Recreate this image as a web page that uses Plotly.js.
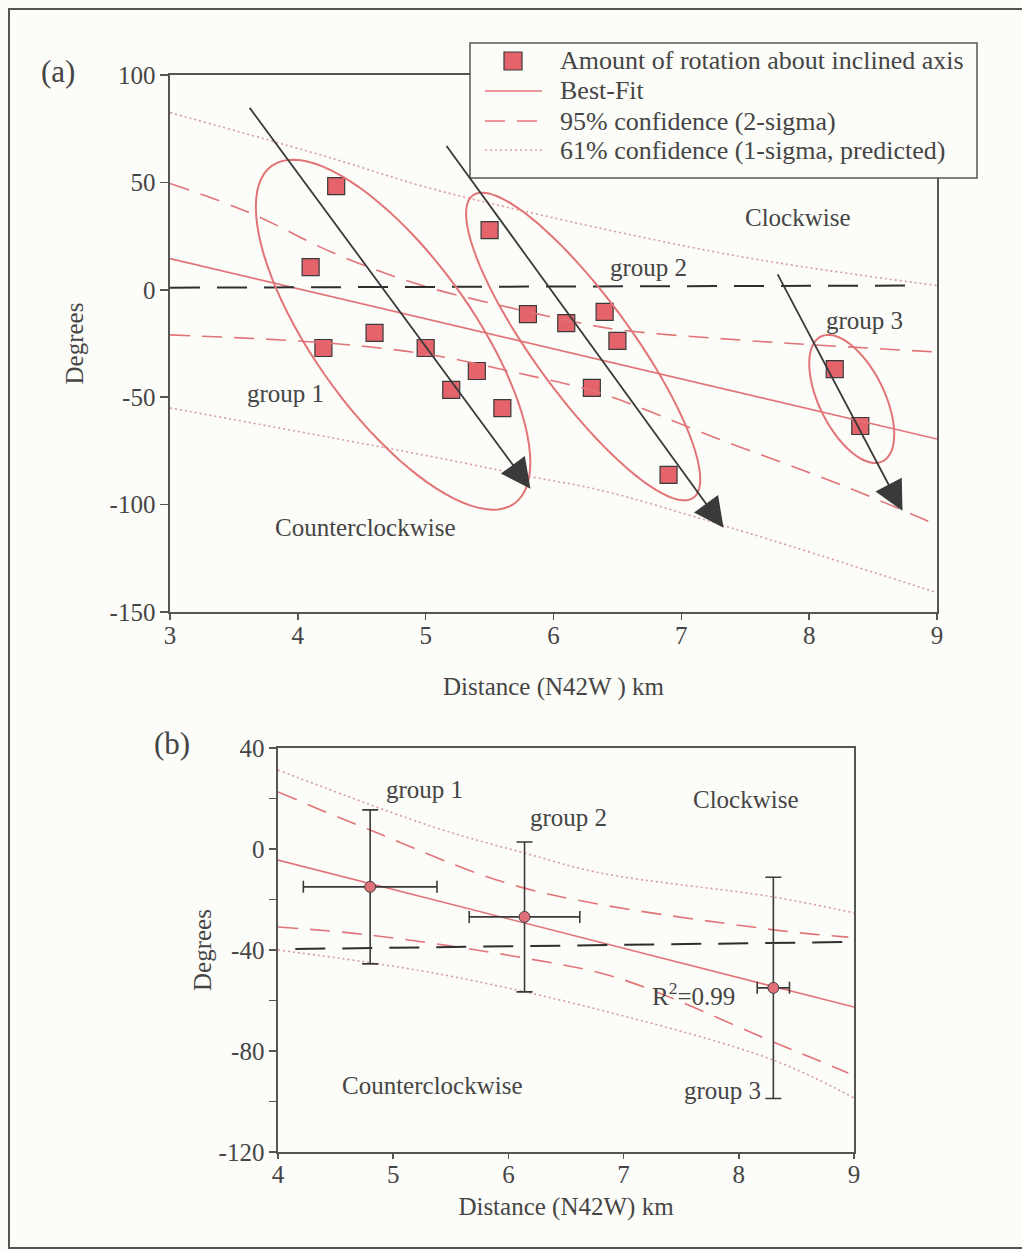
<!DOCTYPE html>
<html><head><meta charset="utf-8">
<script src="https://cdn.plot.ly/plotly-3.0.1.min.js"></script>
<style>html,body{margin:0;padding:0;background:#fcfcf9}</style>
</head><body><div id="chart" style="width:1022px;height:1250px"></div>
<script>
// ---------- Panel (a) data ----------
const aDist = [4.1, 4.2, 4.3, 4.6, 5.0, 5.2, 5.4, 5.5, 5.6, 5.8, 6.1, 6.3, 6.4, 6.5, 6.9, 8.2, 8.4];
const aRot  = [10.6, -27.1, 48.3, -20.1, -27.1, -46.6, -37.8, 27.8, -55.1, -11.3, -15.5, -45.7, -10.3, -23.8, -86.2, -36.9, -63.4];
const aFitX = [3, 9];
const aFitY = [14.5, -69.5];
const a95UpX = [3, 3.63, 4.28, 4.96, 5.74, 6.21, 6.52, 7.46, 8.03, 9];
const a95UpY = [49.5, 35.7, 17.1, 2.2, -9.4, -15.5, -18.7, -23.4, -25.6, -29];
const a95LoX = [3, 4.28, 5.06, 5.74, 6.36, 7.25, 8.3, 9];
const a95LoY = [-21, -25, -30.5, -39, -48, -68.5, -92, -109.5];
const a61UpX = [3, 4.28, 4.96, 5.74, 7.46, 9];
const a61UpY = [82.5, 61, 48.5, 37, 15.5, 2];
const a61LoX = [3, 5.06, 5.84, 6.36, 7.4, 9];
const a61LoY = [-55, -77.8, -87.2, -93.2, -111, -141];
const aZeroX = [3, 8.87];
const aZeroY = [1, 2];
const aXTicks = [3, 4, 5, 6, 7, 8, 9];
const aYTicks = [-150, -100, -50, 0, 50, 100];
const aYTickText = ['-150', '-100', '-50', '0', '50', '100'];
// group ellipses (center, semi-axis vectors in data units)
const ellCx = [4.745, 6.232, 8.333];
const ellCy = [-20.9, -26.4, -50.8];
const ellUx = [0.949, 0.863, 0.241];
const ellUy = [-78.6, -70.4, -29.05];
const ellVx = [-0.502, -0.307, -0.229];
const ellVy = [-21.4, -13.3, -6.72];
// rotation arrows (tail -> tip)
const arrTailX = [3.60, 5.14, 7.73];
const arrTailY = [86.6, 68.9, 9.8];
const arrTipX  = [5.82, 7.33, 8.73];
const arrTipY  = [-92.6, -110.8, -102.9];
// text labels panel (a)
const aLabText = ['Clockwise', 'group 2', 'group 3', 'group 1', 'Counterclockwise'];
const aLabX = [7.91, 6.74, 8.43, 3.9, 4.53];
const aLabY = [33.5, 10.2, -14.4, -48.4, -110.8];
const legendLabels = ['Amount of rotation about inclined axis', 'Best-Fit', '95% confidence (2-sigma)', '61% confidence (1-sigma, predicted)'];

// ---------- Panel (b) data ----------
const bDist = [4.80, 6.14, 8.30];
const bRot  = [-15.0, -26.9, -55.0];
const bDistErr = [0.58, 0.48, 0.14];
const bRotErr  = [30.5, 29.7, 43.8];
const bFitX = [4, 9];
const bFitY = [-4.4, -62.6];
const b95UpX = [4, 4.8, 6.13, 8.25, 8.95];
const b95UpY = [22.6, 7.5, -15.4, -31.7, -34.9];
const b95LoX = [4, 4.8, 6.14, 6.95, 8.3, 8.95];
const b95LoY = [-30.9, -34.1, -43.2, -51.1, -76.4, -88.7];
const b61UpX = [4, 5.35, 6.14, 6.8, 8.3, 9];
const b61UpY = [31.3, 8.7, -1.6, -9.5, -19, -25.3];
const b61LoX = [4, 5.35, 6.8, 8.3, 9];
const b61LoY = [-40, -49.1, -63.8, -83.6, -98.6];
const bZeroX = [4.15, 9];
const bZeroY = [-39.6, -36.8];
const bLabText = ['group 1', 'group 2', 'Clockwise', 'R<sup>2</sup>=0.99', 'Counterclockwise', 'group 3'];
const bLabX = [5.27, 6.52, 8.06, 7.61, 5.34, 7.86];
const bLabY = [23.4, 12.3, 19.8, -57.4, -93.5, -95.8];
const bXTicks = [4, 5, 6, 7, 8, 9];
const bYTicks = [-120, -100, -80, -60, -40, -20, 0, 20, 40];
const bYTickText = ['-120', '', '-80', '', '-40', '', '0', '', '40'];

// ---------- styles ----------
const FONT = '"Liberation Serif", "Times New Roman", serif';
const TXT = '#454545';
const AX = '#555555';
const RED = '#e27478';
const DOTC = '#d99aa0';
const DASH = '20px,12px';
const DOT = '2px,3px';
const BG = '#fcfcf9';
const MFILL = '#e5636b';
const W = 1022, H = 1250;
const px = v => v / W;
const py = v => 1 - v / H;

const traces = [];
// panel a
traces.push({x: aDist, y: aRot, type: 'scatter', mode: 'markers', name: legendLabels[0],
  marker: {symbol: 'square', size: 17, color: MFILL, line: {color: '#3a3a3a', width: 1.2}}, xaxis: 'x', yaxis: 'y'});
traces.push({x: aFitX, y: aFitY, type: 'scatter', mode: 'lines', name: legendLabels[1],
  line: {color: RED, width: 1.6}, xaxis: 'x', yaxis: 'y'});
traces.push({x: a95UpX, y: a95UpY, type: 'scatter', mode: 'lines', name: legendLabels[2],
  line: {color: RED, width: 1.6, dash: DASH, shape: 'spline'}, xaxis: 'x', yaxis: 'y'});
traces.push({x: a95LoX, y: a95LoY, type: 'scatter', mode: 'lines', name: '95% lower',
  line: {color: RED, width: 1.6, dash: DASH, shape: 'spline'}, xaxis: 'x', yaxis: 'y'});
traces.push({x: a61UpX, y: a61UpY, type: 'scatter', mode: 'lines', name: legendLabels[3],
  line: {color: DOTC, width: 1.6, dash: DOT, shape: 'spline'}, xaxis: 'x', yaxis: 'y'});
traces.push({x: a61LoX, y: a61LoY, type: 'scatter', mode: 'lines', name: '61% lower',
  line: {color: DOTC, width: 1.6, dash: DOT, shape: 'spline'}, xaxis: 'x', yaxis: 'y'});
traces.push({x: aZeroX, y: aZeroY, type: 'scatter', mode: 'lines', name: 'zero',
  line: {color: '#2e2e2e', width: 2, dash: '30px,17px'}, xaxis: 'x', yaxis: 'y'});
// panel b
traces.push({x: bFitX, y: bFitY, type: 'scatter', mode: 'lines', name: 'fit b',
  line: {color: RED, width: 1.6}, xaxis: 'x2', yaxis: 'y2'});
traces.push({x: b95UpX, y: b95UpY, type: 'scatter', mode: 'lines', name: '95 up b',
  line: {color: RED, width: 1.6, dash: DASH, shape: 'spline'}, xaxis: 'x2', yaxis: 'y2'});
traces.push({x: b95LoX, y: b95LoY, type: 'scatter', mode: 'lines', name: '95 lo b',
  line: {color: RED, width: 1.6, dash: DASH, shape: 'spline'}, xaxis: 'x2', yaxis: 'y2'});
traces.push({x: b61UpX, y: b61UpY, type: 'scatter', mode: 'lines', name: '61 up b',
  line: {color: DOTC, width: 1.6, dash: DOT, shape: 'spline'}, xaxis: 'x2', yaxis: 'y2'});
traces.push({x: b61LoX, y: b61LoY, type: 'scatter', mode: 'lines', name: '61 lo b',
  line: {color: DOTC, width: 1.6, dash: DOT, shape: 'spline'}, xaxis: 'x2', yaxis: 'y2'});
traces.push({x: bZeroX, y: bZeroY, type: 'scatter', mode: 'lines', name: 'zero b',
  line: {color: '#2e2e2e', width: 2, dash: '30px,17px'}, xaxis: 'x2', yaxis: 'y2'});
traces.push({x: bDist, y: bRot, type: 'scatter', mode: 'markers', name: 'groups',
  error_x: {type: 'data', array: bDistErr, color: '#3a3a3a', thickness: 1.6, width: 6},
  error_y: {type: 'data', array: bRotErr, color: '#3a3a3a', thickness: 1.6, width: 8},
  marker: {symbol: 'circle', size: 11, color: '#e0707a', line: {color: '#444', width: 1}}, xaxis: 'x2', yaxis: 'y2'});

// ellipses as shapes
const shapes = [];
for (let i = 0; i < ellCx.length; i++) {
  let p = '';
  const N = 90;
  for (let k = 0; k <= N; k++) {
    const t = 2 * Math.PI * k / N;
    const ex = ellCx[i] + ellUx[i] * Math.cos(t) + ellVx[i] * Math.sin(t);
    const ey = ellCy[i] + ellUy[i] * Math.cos(t) + ellVy[i] * Math.sin(t);
    p += (k === 0 ? 'M' : 'L') + ex.toFixed(4) + ',' + ey.toFixed(3);
  }
  p += 'Z';
  shapes.push({type: 'path', path: p, xref: 'x', yref: 'y', line: {color: RED, width: 2}, fillcolor: 'rgba(0,0,0,0)'});
}
// outer frame of the figure
shapes.push({type: 'rect', xref: 'paper', yref: 'paper', x0: px(9), x1: 1.05, y0: py(1248), y1: py(9),
  line: {color: '#555', width: 2}, fillcolor: 'rgba(0,0,0,0)', layer: 'below'});

// legend box (drawn, styled after the traces)
shapes.push({type: 'rect', xref: 'paper', yref: 'paper', x0: px(470), x1: px(977), y0: py(178), y1: py(43),
  line: {color: AX, width: 1.5}, fillcolor: BG, layer: 'above'});
const legRowY = [61, 91, 121, 150];
shapes.push({type: 'rect', xref: 'paper', yref: 'paper', x0: px(504), x1: px(522), y0: py(legRowY[0] + 9), y1: py(legRowY[0] - 9),
  line: {color: '#3a3a3a', width: 1.2}, fillcolor: MFILL});
shapes.push({type: 'line', xref: 'paper', yref: 'paper', x0: px(485), x1: px(542), y0: py(legRowY[1]), y1: py(legRowY[1]),
  line: {color: RED, width: 1.6}});
shapes.push({type: 'line', xref: 'paper', yref: 'paper', x0: px(485), x1: px(542), y0: py(legRowY[2]), y1: py(legRowY[2]),
  line: {color: RED, width: 1.6, dash: DASH}});
shapes.push({type: 'line', xref: 'paper', yref: 'paper', x0: px(485), x1: px(542), y0: py(legRowY[3]), y1: py(legRowY[3]),
  line: {color: DOTC, width: 1.6, dash: DOT}});

const annotations = [];
legendLabels.forEach((t, i) => annotations.push({x: px(558), y: py(legRowY[i]), xref: 'paper', yref: 'paper', text: t,
  showarrow: false, xanchor: 'left', yanchor: 'middle', font: {family: FONT, size: 26, color: TXT}}));
for (let i = 0; i < arrTipX.length; i++) {
  annotations.push({x: arrTipX[i], y: arrTipY[i], ax: arrTailX[i], ay: arrTailY[i], xref: 'x', yref: 'y', axref: 'x', ayref: 'y',
    text: ' ', showarrow: true, arrowhead: 2, arrowsize: 3.3, arrowwidth: 1.8, arrowcolor: '#3a3a3a', standoff: 0});
}
aLabText.forEach((t, i) => annotations.push({x: aLabX[i], y: aLabY[i], xref: 'x', yref: 'y', text: t, showarrow: false,
  font: {family: FONT, size: 25, color: TXT}}));
bLabText.forEach((t, i) => annotations.push({x: bLabX[i], y: bLabY[i], xref: 'x2', yref: 'y2', text: t, showarrow: false,
  font: {family: FONT, size: 25, color: TXT}}));
annotations.push({x: px(58), y: py(72), xref: 'paper', yref: 'paper', text: '(a)', showarrow: false,
  xanchor: 'center', yanchor: 'middle', font: {family: FONT, size: 31, color: TXT}});
annotations.push({x: px(172), y: py(744), xref: 'paper', yref: 'paper', text: '(b)', showarrow: false,
  xanchor: 'center', yanchor: 'middle', font: {family: FONT, size: 31, color: TXT}});

const tf = {family: FONT, size: 25, color: TXT};
const axBase = {showline: true, mirror: true, linecolor: AX, linewidth: 1.6, ticks: 'outside', tickcolor: AX, tickwidth: 1.5,
  showgrid: false, zeroline: false, tickfont: tf, autorange: false, fixedrange: true};

const layout = {
  width: W, height: H,
  margin: {l: 0, r: 0, t: 0, b: 0},
  paper_bgcolor: BG, plot_bgcolor: BG,
  font: {family: FONT, color: TXT},
  showlegend: false,
  xaxis: Object.assign({}, axBase, {domain: [px(170), px(937)], range: [3, 9], anchor: 'y', tickvals: aXTicks, ticklen: 6,
    ticklabelstandoff: -6, title: {text: 'Distance (N42W ) km', font: tf, standoff: 30}}),
  yaxis: Object.assign({}, axBase, {domain: [py(612), py(75)], range: [-150, 100], anchor: 'x', tickvals: aYTicks, ticktext: aYTickText, ticklen: 8,
    title: {text: 'Degrees', font: tf, standoff: 19}}),
  xaxis2: Object.assign({}, axBase, {domain: [px(278), px(854)], range: [4, 9], anchor: 'y2', tickvals: bXTicks, ticklen: 5,
    ticklabelstandoff: -6, title: {text: 'Distance (N42W) km', font: tf, standoff: 11}}),
  yaxis2: Object.assign({}, axBase, {domain: [py(1152), py(748)], range: [-120, 40], anchor: 'x2', tickvals: bYTicks, ticktext: bYTickText, ticklen: 7,
    title: {text: 'Degrees', font: tf, standoff: 0}}),
  shapes: shapes,
  annotations: annotations
};

Plotly.newPlot('chart', traces, layout, {displayModeBar: false, staticPlot: true});
</script>
</body></html>
